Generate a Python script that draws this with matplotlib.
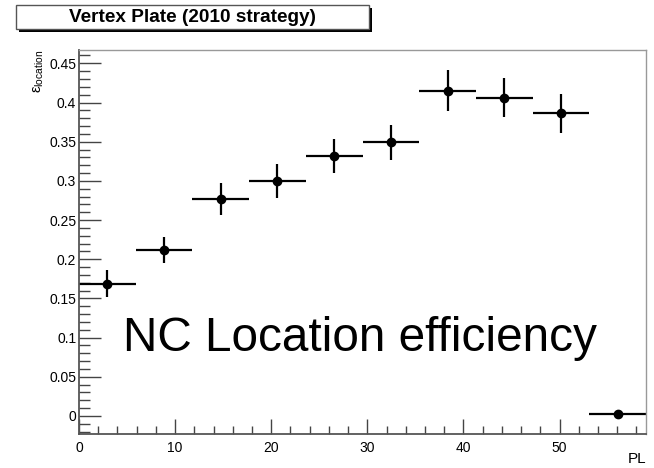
import matplotlib
matplotlib.use("Agg")
import matplotlib.pyplot as plt
from matplotlib.patches import Rectangle
from matplotlib.ticker import MultipleLocator
import numpy as np

# Data
pl_edges = [0.0, 5.9, 11.8, 17.7, 23.6, 29.5, 35.4, 41.3, 47.2, 53.1, 59.0]
efficiency = [0.169, 0.212, 0.277, 0.300, 0.332, 0.349, 0.415, 0.406, 0.386, 0.002]
eff_err = [0.017, 0.017, 0.020, 0.022, 0.022, 0.022, 0.026, 0.025, 0.025, 0.0]
title_text = "Vertex Plate (2010 strategy)"
overlay_text = "NC Location efficiency"

plt.rcParams['font.family'] = ['Liberation Sans', 'DejaVu Sans']

W, H = 654, 468
fig = plt.figure(figsize=(W / 100, H / 100), dpi=100)
ax = fig.add_axes([79 / W, 1 - 434 / H, (646 - 79) / W, (434 - 50) / H])

edges = np.array(pl_edges)
centers = (edges[:-1] + edges[1:]) / 2
half = (edges[1:] - edges[:-1]) / 2
ax.errorbar(centers, efficiency, xerr=half, yerr=eff_err, fmt='o', color='black',
            ms=6, elinewidth=1.6, capsize=0)

ax.set_xlim(0, 59.0)
ax.set_ylim(-0.023, 0.467)
ax.xaxis.set_major_locator(MultipleLocator(10))
ax.xaxis.set_minor_locator(MultipleLocator(2))
ax.yaxis.set_major_locator(MultipleLocator(0.05))
ax.yaxis.set_minor_locator(MultipleLocator(0.01))
ax.yaxis.set_major_formatter(matplotlib.ticker.FuncFormatter(lambda v, p: ('%g' % round(v, 2))))
ax.tick_params(which='both', direction='in', top=False, right=False, labelsize=10, color='#444')
ax.tick_params(axis='y', which='major', length=16, width=1, pad=2)
ax.tick_params(axis='y', which='minor', length=8, width=1)
ax.tick_params(axis='x', which='major', length=11, width=1, pad=5)
ax.tick_params(axis='x', which='minor', length=6, width=1)
for s in ['left', 'bottom']:
    ax.spines[s].set_color('#555')
    ax.spines[s].set_linewidth(1.3)
for s in ['top', 'right']:
    ax.spines[s].set_color('#999')
    ax.spines[s].set_linewidth(1.0)

ax.text(29.2, 0.0995, overlay_text, fontsize=34.4, ha='center', va='center', color='black')

fig.text(646 / W, 1 - 466 / H, "PL", ha='right', va='bottom', fontsize=11)
fig.text(39 / W, 1 - 50 / H, r"$\mathregular{ε_{location}}$", rotation=90,
         ha='center', va='top', fontsize=10.5)

# Title box with shadow
bx0, by0, bx1, by1 = 16, 5, 369, 29
fig.patches.append(Rectangle(((bx0 + 3) / W, 1 - (by1 + 3) / H), (bx1 - bx0) / W, (by1 - by0) / H,
                             transform=fig.transFigure, facecolor='black', edgecolor='black', lw=0))
fig.patches.append(Rectangle((bx0 / W, 1 - by1 / H), (bx1 - bx0) / W, (by1 - by0) / H,
                             transform=fig.transFigure, facecolor='white', edgecolor='#555', lw=1))
fig.text((bx0 + bx1) / 2 / W, 1 - (by0 + by1) / 2 / H, title_text, ha='center', va='center',
         fontsize=13.7, fontweight='bold')

fig.savefig("out.png", dpi=100)
